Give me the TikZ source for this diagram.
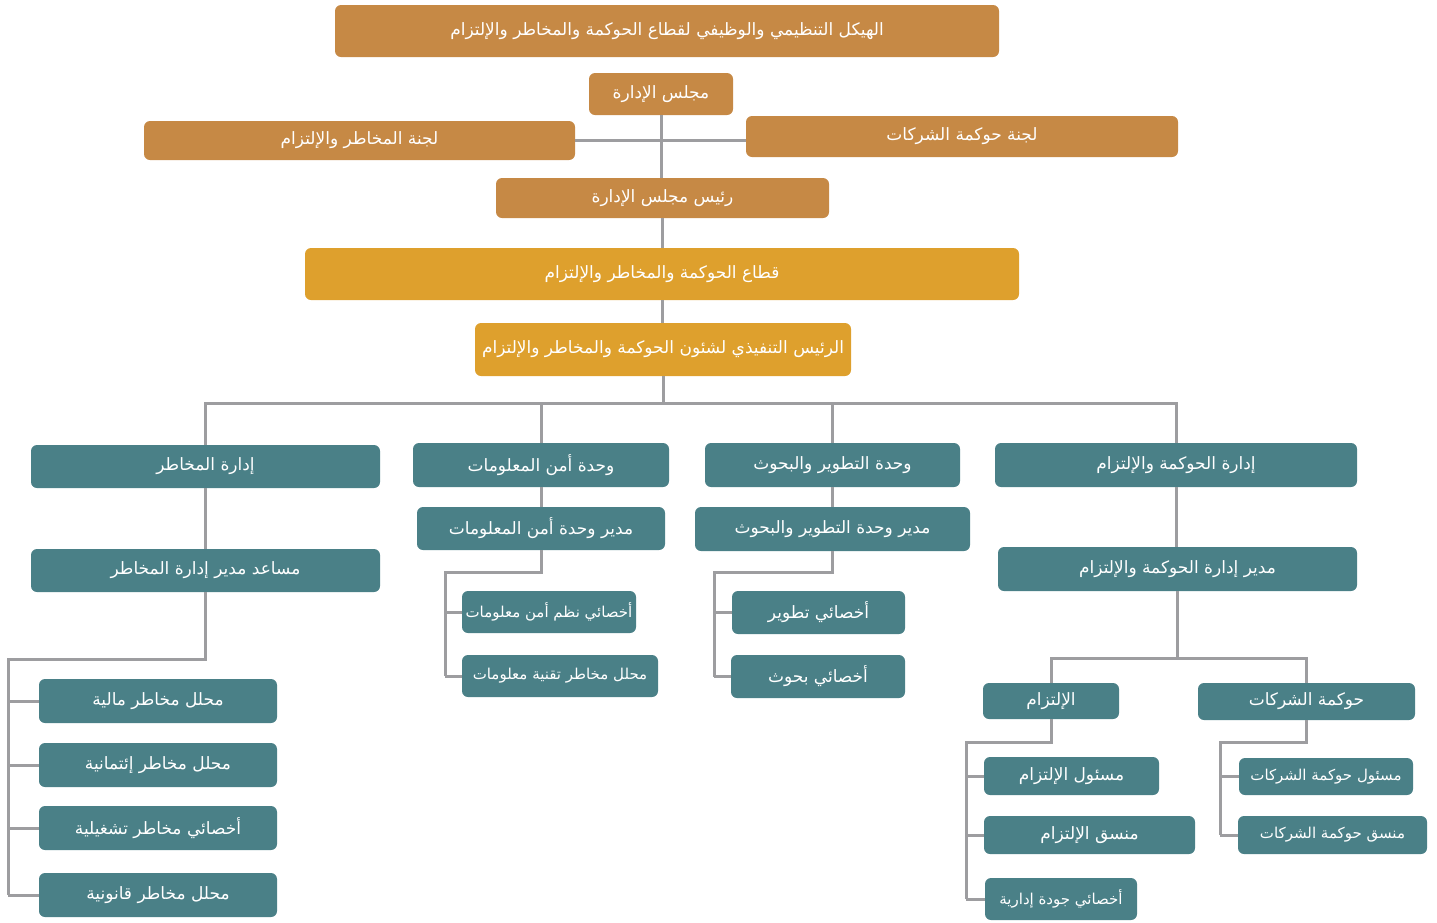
\documentclass[tikz,border=0pt]{standalone}
\usepackage{fontspec}
\usepackage{xcolor}
\usepackage{tikz}
\TeXXeTstate=1
\newfontfamily\arabicfont[Script=Arabic]{DejaVu Sans}
\definecolor{boardbrown}{HTML}{C68945}
\definecolor{sectorgold}{HTML}{DEA02D}
\definecolor{unitteal}{HTML}{4A8087}
\definecolor{linkgray}{HTML}{9D9DA0}
\tikzset{
    orgbox/.style={rectangle, rounded corners=6pt, inner sep=0pt, text=white, font=\arabicfont\fontsize{17}{20}\selectfont, execute at begin node=\beginR, execute at end node=\endR},
    boardbox/.style={orgbox, fill=boardbrown},
    sectorbox/.style={orgbox, fill=sectorgold},
    unitbox/.style={orgbox, fill=unitteal},
    narrowtext/.style={font=\arabicfont\fontsize{15}{18}\selectfont},
    link/.style={draw=linkgray, line width=3pt}
}

\begin{document}
\begin{tikzpicture}[x=1pt, y=-1pt]
            \useasboundingbox (0,0) rectangle (1437,922);

            % board level
            \node (title) [boardbox, minimum width=664pt, minimum height=52pt] at (667,31) {الهيكل التنظيمي والوظيفي لقطاع الحوكمة والمخاطر والإلتزام};
            \node (board) [boardbox, minimum width=144pt, minimum height=42pt] at (661,94) {مجلس الإدارة};
            \node (riskcom) [boardbox, minimum width=431pt, minimum height=39pt] at (359.5,140.5) {لجنة المخاطر والإلتزام};
            \node (govcom) [boardbox, minimum width=432pt, minimum height=41pt] at (962,136.5) {لجنة حوكمة الشركات};
            \node (chair) [boardbox, minimum width=333pt, minimum height=40pt] at (662.5,198) {رئيس مجلس الإدارة};
            \node (sector) [sectorbox, minimum width=714pt, minimum height=52pt] at (662,274) {قطاع الحوكمة والمخاطر والإلتزام};
            \node (ceo) [sectorbox, minimum width=376pt, minimum height=53pt] at (663,349.5) {الرئيس التنفيذي لشئون الحوكمة والمخاطر والإلتزام};

            \draw[link] (board.south) -- (board.south |- chair.north);
            \draw[link] (riskcom.east) -- (riskcom.east -| govcom.west);
            \draw[link] (chair.south) -- (chair.south |- sector.north);
            \draw[link] (sector.south) -- (sector.south |- ceo.north);
            \draw[link] (ceo.south) -- ++(0,27) coordinate (bus);

            % departments
            \node (riskdept) [unitbox, minimum width=349pt, minimum height=43pt] at (205.5,466.5) {إدارة المخاطر};
            \node (isunit) [unitbox, minimum width=256pt, minimum height=44pt] at (541,465) {وحدة أمن المعلومات};
            \node (rdunit) [unitbox, minimum width=255pt, minimum height=44pt] at (832.5,465) {وحدة التطوير والبحوث};
            \node (govdept) [unitbox, minimum width=362pt, minimum height=44pt] at (1176,465) {إدارة الحوكمة والإلتزام};

            \draw[link] (riskdept.north) |- (bus) -| (govdept.north);
            \draw[link] (isunit.north) -- (isunit.north |- bus);
            \draw[link] (rdunit.north) -- (rdunit.north |- bus);

            % risk management
            \node (asstmgr) [unitbox, minimum width=349pt, minimum height=43pt] at (205.5,570.5) {مساعد مدير إدارة المخاطر};
            \node (finrisk) [unitbox, minimum width=238pt, minimum height=44pt] at (158,701) {محلل مخاطر مالية};
            \node (creditrisk) [unitbox, minimum width=238pt, minimum height=44pt] at (158,765) {محلل مخاطر إئتمانية};
            \node (opsrisk) [unitbox, minimum width=238pt, minimum height=44pt] at (158,828) {أخصائي مخاطر تشغيلية};
            \node (lawrisk) [unitbox, minimum width=238pt, minimum height=44pt] at (158,895) {محلل مخاطر قانونية};

            \draw[link] (riskdept.south) -- (asstmgr.north);
            \draw[link] (asstmgr.south) |- (8,659) coordinate (riskrail) -- (riskrail |- lawrisk.west);
            \foreach \n in {finrisk, creditrisk, opsrisk, lawrisk}
                \draw[link] (riskrail |- \n.west) -- (\n.west);

            % information security
            \node (ismgr) [unitbox, minimum width=248pt, minimum height=43pt] at (541,528.5) {مدير وحدة أمن المعلومات};
            \node (isspec) [unitbox, narrowtext, minimum width=174pt, minimum height=42pt] at (549,612) {أخصائي نظم أمن معلومات};
            \node (isrisk) [unitbox, narrowtext, minimum width=196pt, minimum height=42pt] at (560,676) {محلل مخاطر تقنية معلومات};

            \draw[link] (isunit.south) -- (ismgr.north);
            \draw[link] (ismgr.south) |- (445,572) coordinate (israil) -- (israil |- isrisk.west);
            \foreach \n in {isspec, isrisk}
                \draw[link] (israil |- \n.west) -- (\n.west);

            % research and development
            \node (rdmgr) [unitbox, minimum width=275pt, minimum height=44pt] at (832.5,529) {مدير وحدة التطوير والبحوث};
            \node (rddev) [unitbox, minimum width=173pt, minimum height=43pt] at (818.5,612.5) {أخصائي تطوير};
            \node (rdres) [unitbox, minimum width=174pt, minimum height=43pt] at (818,676.5) {أخصائي بحوث};

            \draw[link] (rdunit.south) -- (rdmgr.north);
            \draw[link] (rdmgr.south) |- (714,572) coordinate (rdrail) -- (rdrail |- rdres.west);
            \foreach \n in {rddev, rdres}
                \draw[link] (rdrail |- \n.west) -- (\n.west);

            % governance and compliance
            \node (govmgr) [unitbox, minimum width=359pt, minimum height=44pt] at (1177.5,569) {مدير إدارة الحوكمة والإلتزام};
            \node (comp) [unitbox, minimum width=136pt, minimum height=36pt] at (1051,701) {الإلتزام};
            \node (corp) [unitbox, minimum width=217pt, minimum height=37pt] at (1306.5,701.5) {حوكمة الشركات};
            \node (compoff) [unitbox, minimum width=175pt, minimum height=38pt] at (1071.5,776) {مسئول الإلتزام};
            \node (compcoord) [unitbox, minimum width=211pt, minimum height=38pt] at (1089.5,835) {منسق الإلتزام};
            \node (quality) [unitbox, narrowtext, minimum width=152pt, minimum height=42pt] at (1061,899) {أخصائي جودة إدارية};
            \node (corpoff) [unitbox, narrowtext, minimum width=174pt, minimum height=37pt] at (1326,776.5) {مسئول حوكمة الشركات};
            \node (corpcoord) [unitbox, narrowtext, minimum width=189pt, minimum height=38pt] at (1332.5,835) {منسق حوكمة الشركات};

            \draw[link] (govdept.south) -- (govdept.south |- govmgr.north);
            \draw[link] (govmgr.south) -- ++(0,67) coordinate (govbus);
            \draw[link] (comp.north) |- (govbus) -| (corp.north);
            \draw[link] (comp.south) |- (966,742) coordinate (comprail) -- (comprail |- quality.west);
            \foreach \n in {compoff, compcoord, quality}
                \draw[link] (comprail |- \n.west) -- (\n.west);
            \draw[link] (corp.south) |- (1220,742) coordinate (corprail) -- (corprail |- corpcoord.west);
            \foreach \n in {corpoff, corpcoord}
                \draw[link] (corprail |- \n.west) -- (\n.west);
        \end{tikzpicture}
\end{document}
